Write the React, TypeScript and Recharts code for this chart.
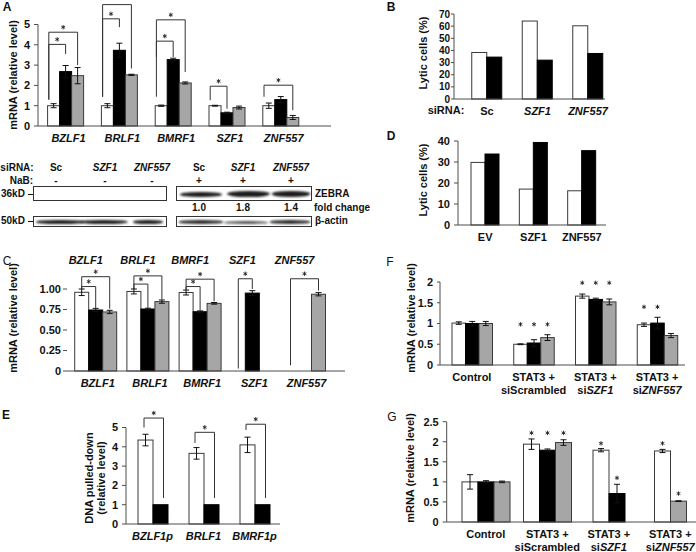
import React from 'react'
import { BarChart, Bar, XAxis, YAxis, ErrorBar } from 'recharts'

// ─── Style ───────────────────────────────────────────────────────────────────

const FONT = "'Liberation Sans', Arial, Helvetica, sans-serif"
const INK = '#111'
const AXIS = '#4d4d4d'
const FILLS: Record<string, string> = { w: '#ffffff', b: '#000000', g: '#a6a6a6' }
const GENES = new Set(['BZLF1', 'BRLF1', 'BMRF1', 'SZF1', 'ZNF557', 'BZLF1p', 'BMRF1p'])

type Bracket = { cat: string; from: number; to: number; top: number; l: number; r: number; star?: boolean }
type Series = { kind: 'w' | 'b' | 'g'; values: (number | null)[]; errs?: (number | null)[]; stars?: (number | null)[] }

// ─── Data: A (mRNA after knockdown) ─────────────────────────────────────────

const aGenes = ['BZLF1', 'BRLF1', 'BMRF1', 'SZF1', 'ZNF557']
const aWhite = [1.0, 1.0, 1.0, 1.0, 1.0]
const aWhiteErr = [0.1, 0.1, 0.03, 0.02, 0.13]
const aBlack = [2.68, 3.73, 3.27, 0.65, 1.3]
const aBlackErr = [0.3, 0.35, 0.07, 0.03, 0.15]
const aGrey = [2.48, 2.52, 2.12, 0.91, 0.42]
const aGreyErr = [0.4, 0.03, 0.05, 0.07, 0.1]
const aBrackets: Bracket[] = [
  { cat: 'BZLF1', from: 0, to: 1, top: 4.02, l: 1.3, r: 3.55 },
  { cat: 'BZLF1', from: 0, to: 2, top: 4.62, l: 1.3, r: 3.0 },
  { cat: 'BRLF1', from: 0, to: 1, top: 5.28, l: 1.44, r: 4.87 },
  { cat: 'BRLF1', from: 0, to: 2, top: 5.98, l: 1.44, r: 2.83, star: false },
  { cat: 'BMRF1', from: 0, to: 1, top: 4.18, l: 3.4, r: 3.4 },
  { cat: 'BMRF1', from: 0, to: 2, top: 5.23, l: 1.44, r: 2.66 },
  { cat: 'SZF1', from: 0, to: 1, top: 1.96, l: 1.27, r: 0.85 },
  { cat: 'ZNF557', from: 0, to: 2, top: 2.01, l: 1.44, r: 0.78 },
]

// ─── Data: blot ──────────────────────────────────────────────────────────────

const blotLanes = ['Sc', 'SZF1', 'ZNF557', 'Sc', 'SZF1', 'ZNF557']
const nabSigns = ['-', '-', '-', '+', '+', '+']
const foldChange = ['1.0', '1.8', '1.4']

// ─── Data: B / D (lytic cells) ───────────────────────────────────────────────

const bCats = ['Sc', 'SZF1', 'ZNF557']
const bWhite = [38.3, 64.2, 60.3]
const bBlack = [34.5, 32, 37.5]

const dCats = ['EV', 'SZF1', 'ZNF557']
const dWhite = [29.8, 17.1, 16.3]
const dBlack = [33.8, 39.3, 35.4]

// ─── Data: C ─────────────────────────────────────────────────────────────────

const cGenes = ['BZLF1', 'BRLF1', 'BMRF1', 'SZF1', 'ZNF557']
const cWhite = [0.96, 0.97, 0.957, null, null]
const cWhiteErr = [0.04, 0.03, 0.03, null, null]
const cBlack = [0.744, 0.756, 0.723, 0.95, null]
const cBlackErr = [0.02, 0.01, 0.01, 0.03, null]
const cGrey = [0.72, 0.846, 0.825, null, 0.936]
const cGreyErr = [0.02, 0.02, 0.01, null, 0.02]
const cBrackets: Bracket[] = [
  { cat: 'BZLF1', from: 0, to: 1, top: 1.03, l: 1.0, r: 0.77 },
  { cat: 'BZLF1', from: 0, to: 2, top: 1.15, l: 1.0, r: 0.76 },
  { cat: 'BRLF1', from: 0, to: 1, top: 1.06, l: 1.0, r: 0.77 },
  { cat: 'BRLF1', from: 0, to: 2, top: 1.16, l: 1.0, r: 0.87 },
  { cat: 'BMRF1', from: 0, to: 1, top: 1.03, l: 0.99, r: 0.74 },
  { cat: 'BMRF1', from: 0, to: 2, top: 1.12, l: 0.99, r: 0.85 },
  { cat: 'SZF1', from: 0, to: 1, top: 1.125, l: 0.03, r: 1.0 },
  { cat: 'ZNF557', from: 0, to: 2, top: 1.125, l: 0.07, r: 0.98 },
]

// ─── Data: E (ChIP) ──────────────────────────────────────────────────────────

const eCats = ['BZLF1p', 'BRLF1', 'BMRF1p']
const eWhite = [4.35, 3.66, 4.1]
const eWhiteErr = [0.3, 0.3, 0.4]
const eBlack = [1, 1, 1]
const eBrackets: Bracket[] = [
  { cat: 'BZLF1p', from: 0, to: 1, top: 5.49, l: 5.0, r: 1.35 },
  { cat: 'BRLF1', from: 0, to: 1, top: 4.75, l: 4.2, r: 1.35 },
  { cat: 'BMRF1p', from: 0, to: 1, top: 5.17, l: 4.87, r: 1.35 },
]

// ─── Data: F / G (STAT3) ────────────────────────────────────────────────────

const stCats = ['Control', 'STAT3 + siScrambled', 'STAT3 + siSZF1', 'STAT3 + siZNF557']

const fWhite = [1.01, 0.5, 1.66, 0.97]
const fWhiteErr = [0.03, 0.01, 0.05, 0.04]
const fBlack = [1.0, 0.53, 1.58, 1.01]
const fBlackErr = [0.05, 0.08, 0.03, 0.14]
const fGrey = [1.0, 0.66, 1.52, 0.71]
const fGreyErr = [0.05, 0.07, 0.07, 0.05]
const fWhiteStar = [null, 0.98, 1.98, 1.4]
const fBlackStar = [null, 0.98, 1.98, 1.4]
const fGreyStar = [null, 0.98, 1.98, null]

const gWhite = [1.0, 1.94, 1.79, 1.77]
const gWhiteErr = [0.18, 0.13, 0.04, 0.04]
const gBlack = [1.0, 1.79, 0.71, null]
const gBlackErr = [0.03, 0.03, 0.23, null]
const gGrey = [1.0, 1.98, null, 0.52]
const gGreyErr = [0.02, 0.07, null, 0.01]
const gWhiteStar = [null, 2.22, 1.96, 1.96]
const gBlackStar = [null, 2.22, 1.1, null]
const gGreyStar = [null, 2.22, null, 0.71]

// ─── Helpers ─────────────────────────────────────────────────────────────────

// rows keyed v0..vn; with pack, groups missing a series go to u0..um instead
// (drawn on a second, hidden axis so that short groups stay centred)
function buildRows(cats: string[], series: Series[], pack = false) {
  return cats.map((cat, i) => {
    const row: any = { cat }
    const used = pack ? series.filter((s) => s.values[i] != null) : series
    const p = pack && used.length < series.length ? 'u' : 'v'
    used.forEach((s, slot) => {
      row[`${p}${slot}`] = s.values[i]
      row[`${p}e${slot}`] = s.errs?.[i] ?? null
      row[`${p}s${slot}`] = s.stars?.[i] ?? null
      row[`${p}k${slot}`] = s.kind
    })
    return row
  })
}

function words(line: string, italic: boolean) {
  if (!italic) return line
  return line.split(' ').map((w, i) => {
    const sp = i > 0 ? ' ' : ''
    if (GENES.has(w)) return <tspan key={i} fontStyle="italic">{sp + w}</tspan>
    if (w.startsWith('si') && GENES.has(w.slice(2)))
      return (
        <tspan key={i}>
          {sp}si<tspan fontStyle="italic">{w.slice(2)}</tspan>
        </tspan>
      )
    return <tspan key={i}>{sp + w}</tspan>
  })
}

function CatTick(props: any) {
  const { x, y, payload, italic = true, dx = 0, dy = 0, size = 11 } = props
  const label: string = payload.value
  const cut = label.indexOf('+')
  const lines = cut >= 0 ? [label.slice(0, cut + 1), label.slice(cut + 1).trim()] : [label]
  return (
    <text x={x + dx} y={y + dy} textAnchor="middle" fontFamily={FONT} fontSize={size} fontWeight="bold" fill={INK}>
      {lines.map((ln, li) => (
        <tspan key={li} x={x + dx} dy={li === 0 ? '0.71em' : '1.18em'}>
          {words(ln, italic)}
        </tspan>
      ))}
    </text>
  )
}

function Star({ cx, cy }: { cx: number; cy: number }) {
  const r = 2.2
  const dx = r * 0.866
  const dy = r * 0.5
  return (
    <path
      d={`M${cx},${cy - r}L${cx},${cy + r}M${cx - dx},${cy - dy}L${cx + dx},${cy + dy}M${cx - dx},${cy + dy}L${cx + dx},${cy - dy}`}
      stroke="#222"
      strokeWidth={0.9}
      fill="none"
    />
  )
}

type ShapeOpts = { slots: number; brackets?: Bracket[]; legL: number; legR: number }

// bar + its annotations; scale taken from the bar the library drew
function makeShape(slot: number, o: ShapeOpts, pre = 'v') {
  return (p: any) => {
    const { x, y, width: w, height: h, payload: row } = p
    const v = row[`${pre}${slot}`]
    if (v == null || !(h > 0)) return <g />
    const unit = h / v
    const base = y + h
    const toY = (val: number) => base - val * unit
    const g0 = x - slot * w
    const kind = row[`${pre}k${slot}`]
    let host = 0
    while (host < o.slots && row[`${pre}${host}`] == null) host++
    const marks: React.ReactNode[] = []
    if (slot === host && o.brackets) {
      o.brackets
        .filter((b) => b.cat === row.cat)
        .forEach((b, i) => {
          const lx = g0 + (b.from + o.legL) * w
          const rx = g0 + (b.to + o.legR) * w
          const ty = toY(b.top)
          marks.push(
            <path
              key={`b${i}`}
              d={`M${lx},${toY(b.l)}L${lx},${ty}L${rx},${ty}L${rx},${toY(b.r)}`}
              fill="none"
              stroke="#333"
              strokeWidth={1}
            />
          )
          if (b.star !== false) marks.push(<Star key={`s${i}`} cx={(lx + rx) / 2} cy={ty - 5} />)
        })
    }
    const star = row[`${pre}s${slot}`]
    if (star != null) marks.push(<Star key="st" cx={x + w / 2} cy={toY(star)} />)
    return (
      <g>
        <rect x={x} y={y} width={w} height={h} fill={FILLS[kind]} stroke={kind === 'b' ? '#000' : '#3a3a3a'} strokeWidth={1} />
        {marks}
      </g>
    )
  }
}

type PanelProps = {
  box: [number, number, number, number]
  margin: { top: number; right: number; bottom: number; left: number }
  rows: any[]
  slots: number
  altSlots?: number
  barSize: number
  yDomain: [number, number]
  yTicks: number[]
  yWidth: number
  yFmt?: (v: number) => string
  ySize?: number
  yLine?: boolean
  yTickSize?: number
  yTickMargin?: number
  xHeight: number
  xPad: { left: number; right: number }
  italic?: boolean
  xDx?: number
  top?: { height: number; dx: number; dy: number }
  brackets?: Bracket[]
  legL?: number
  legR?: number
}

function barsFor(p: PanelProps, pre: string, n: number, axisId: string) {
  const opts: ShapeOpts = { slots: n, brackets: p.brackets, legL: p.legL ?? 0.5, legR: p.legR ?? 0.5 }
  return Array.from({ length: n }, (_, i) => (
    <Bar
      key={`${pre}${i}`}
      xAxisId={axisId}
      dataKey={`${pre}${i}`}
      barSize={p.barSize}
      isAnimationActive={false}
      shape={makeShape(i, opts, pre)}
    >
      {p.rows.some((r) => r[`${pre}e${i}`] != null) && (
        <ErrorBar dataKey={`${pre}e${i}`} width={3} stroke={INK} strokeWidth={1} />
      )}
    </Bar>
  ))
}

function Panel(p: PanelProps) {
  const [left, top, width, height] = p.box
  return (
    <div style={{ position: 'absolute', left, top }}>
      <BarChart width={width} height={height} data={p.rows} margin={p.margin} barGap={0} barCategoryGap={0}>
        <XAxis
          xAxisId="b"
          dataKey="cat"
          interval={0}
          height={p.xHeight}
          padding={p.xPad}
          tickLine={false}
          axisLine={{ stroke: AXIS }}
          tick={(t: any) => <CatTick {...t} italic={p.italic ?? true} dx={p.xDx ?? 0} />}
        />
        {p.altSlots && <XAxis xAxisId="b2" dataKey="cat" hide height={p.xHeight} padding={p.xPad} />}
        {p.top && (
          <XAxis
            xAxisId="t"
            orientation="top"
            dataKey="cat"
            interval={0}
            height={p.top.height}
            padding={p.xPad}
            tickLine={false}
            axisLine={false}
            tick={(t: any) => <CatTick {...t} italic dx={p.top!.dx} dy={p.top!.dy} />}
          />
        )}
        <YAxis
          type="number"
          domain={p.yDomain}
          ticks={p.yTicks}
          interval={0}
          width={p.yWidth}
          tickFormatter={p.yFmt ?? ((v: number) => String(v))}
          tick={{ fontSize: p.ySize ?? 11, fontWeight: 'bold', fill: INK, fontFamily: FONT }}
          tickSize={p.yTickSize ?? 4}
          tickMargin={p.yTickMargin ?? 4}
          tickLine={{ stroke: AXIS }}
          axisLine={p.yLine === false ? false : { stroke: AXIS }}
        />
        {barsFor(p, 'v', p.slots, 'b')}
        {p.altSlots ? barsFor(p, 'u', p.altSlots, 'b2') : null}
      </BarChart>
    </div>
  )
}

function Txt({
  x,
  y,
  children,
  size = 11,
  bold = true,
  italic = false,
  align = 'center',
}: {
  x: number
  y: number
  children: React.ReactNode
  size?: number
  bold?: boolean
  italic?: boolean
  align?: 'center' | 'left' | 'right'
}) {
  const tx = align === 'center' ? '-50%' : align === 'left' ? '0' : '-100%'
  return (
    <div
      style={{
        position: 'absolute',
        left: x,
        top: y,
        transform: `translate(${tx}, -50%)`,
        whiteSpace: 'nowrap',
        fontSize: size,
        fontWeight: bold ? 'bold' : 'normal',
        fontStyle: italic ? 'italic' : 'normal',
        lineHeight: 1.15,
        color: INK,
      }}
    >
      {children}
    </div>
  )
}

function RotLabel({ x, y, lines, size = 11 }: { x: number; y: number; lines: string[]; size?: number }) {
  return (
    <div
      style={{
        position: 'absolute',
        left: x,
        top: y,
        transform: 'translate(-50%, -50%) rotate(-90deg)',
        whiteSpace: 'nowrap',
        fontSize: size,
        fontWeight: 'bold',
        lineHeight: 1.1,
        textAlign: 'center',
        color: INK,
      }}
    >
      {lines.map((l) => (
        <div key={l}>{l}</div>
      ))}
    </div>
  )
}

function Band({ cx, cy, w, h, dark = 0.92 }: { cx: number; cy: number; w: number; h: number; dark?: number }) {
  return (
    <div
      style={{
        position: 'absolute',
        left: cx - w / 2,
        top: cy - h / 2,
        width: w,
        height: h,
        background: `rgba(10,10,10,${dark})`,
        borderRadius: '45%',
        filter: 'blur(0.9px)',
      }}
    />
  )
}

function BoxOutline({ x1, y1, x2, y2 }: { x1: number; y1: number; x2: number; y2: number }) {
  return (
    <div
      style={{
        position: 'absolute',
        left: x1,
        top: y1,
        width: x2 - x1,
        height: y2 - y1,
        border: '1px solid #333',
        boxSizing: 'border-box',
      }}
    />
  )
}

function Blot() {
  const laneX = [56, 105, 152, 199, 243, 291]
  return (
    <>
      <Txt x={17} y={168} size={10}>siRNA:</Txt>
      {blotLanes.map((l, i) => (
        <Txt key={`l${i}`} x={laneX[i]} y={168} size={10} italic={GENES.has(l)}>
          {l}
        </Txt>
      ))}
      <Txt x={33} y={181} size={10} align="right">NaB:</Txt>
      {nabSigns.map((s, i) => (
        <Txt key={`n${i}`} x={laneX[i]} y={181} size={10}>
          {s}
        </Txt>
      ))}
      <Txt x={1} y={194} size={10} align="left">36kD</Txt>
      <div style={{ position: 'absolute', left: 28, top: 194, width: 5, height: 1, background: INK }} />
      <BoxOutline x1={33} y1={186} x2={167} y2={201} />
      <BoxOutline x1={176} y1={186} x2={312} y2={201} />
      <Band cx={201} cy={194} w={42} h={5} />
      <Band cx={248} cy={194} w={43} h={6.5} />
      <Band cx={291} cy={194} w={38} h={6} />
      <Txt x={315} y={194} size={10} align="left">ZEBRA</Txt>
      {foldChange.map((f, i) => (
        <Txt key={`f${i}`} x={laneX[i + 3]} y={208} size={10}>
          {f}
        </Txt>
      ))}
      <Txt x={314} y={208} size={10} align="left">fold change</Txt>
      <Txt x={1} y={220.5} size={10} align="left">50kD</Txt>
      <div style={{ position: 'absolute', left: 28, top: 221, width: 5, height: 1, background: INK }} />
      <BoxOutline x1={33} y1={216} x2={167} y2={227} />
      <BoxOutline x1={176} y1={216} x2={312} y2={227} />
      <Band cx={60} cy={222} w={48} h={4} />
      <Band cx={104} cy={222} w={48} h={4.5} />
      <Band cx={148} cy={222} w={30} h={4} />
      <Band cx={201} cy={222} w={44} h={3.5} dark={0.85} />
      <Band cx={246} cy={222} w={44} h={3} dark={0.7} />
      <Band cx={290} cy={222} w={40} h={3.5} dark={0.85} />
      <Txt x={315} y={221} size={10} align="left">β-actin</Txt>
    </>
  )
}

// ─── Tables ──────────────────────────────────────────────────────────────────

const aRows = buildRows(aGenes, [
  { kind: 'w', values: aWhite, errs: aWhiteErr },
  { kind: 'b', values: aBlack, errs: aBlackErr },
  { kind: 'g', values: aGrey, errs: aGreyErr },
])
const bRows = buildRows(bCats, [
  { kind: 'w', values: bWhite },
  { kind: 'b', values: bBlack },
])
const cRows = buildRows(cGenes, [
  { kind: 'w', values: cWhite, errs: cWhiteErr },
  { kind: 'b', values: cBlack, errs: cBlackErr },
  { kind: 'g', values: cGrey, errs: cGreyErr },
])
const dRows = buildRows(dCats, [
  { kind: 'w', values: dWhite },
  { kind: 'b', values: dBlack },
])
const eRows = buildRows(eCats, [
  { kind: 'w', values: eWhite, errs: eWhiteErr },
  { kind: 'b', values: eBlack },
])
const fRows = buildRows(stCats, [
  { kind: 'w', values: fWhite, errs: fWhiteErr, stars: fWhiteStar },
  { kind: 'b', values: fBlack, errs: fBlackErr, stars: fBlackStar },
  { kind: 'g', values: fGrey, errs: fGreyErr, stars: fGreyStar },
])
const gRows = buildRows(
  stCats,
  [
    { kind: 'w', values: gWhite, errs: gWhiteErr, stars: gWhiteStar },
    { kind: 'b', values: gBlack, errs: gBlackErr, stars: gBlackStar },
    { kind: 'g', values: gGrey, errs: gGreyErr, stars: gGreyStar },
  ],
  true
)

// ─── App ─────────────────────────────────────────────────────────────────────

export default function App() {
  return (
    <div
      style={{
        position: 'absolute',
        left: 0,
        top: 0,
        width: 696,
        height: 552,
        overflow: 'hidden',
        background: '#fff',
        fontFamily: FONT,
      }}
    >
      {/* A */}
      <Panel
        box={[0, 0, 340, 150]}
        margin={{ top: 24.5, right: 9, bottom: 0, left: 0 }}
        rows={aRows}
        slots={3}
        barSize={12}
        yDomain={[0, 5]}
        yTicks={[0, 1, 2, 3, 4, 5]}
        yWidth={38}
        xHeight={24}
        xPad={{ left: 0.6, right: 23.4 }}
        xDx={3}
        brackets={aBrackets}
        legL={0.1}
        legR={0.5}
      />
      <Blot />
      {/* B */}
      <Panel
        box={[380, 0, 240, 121]}
        margin={{ top: 14, right: 15, bottom: 0, left: 0 }}
        rows={bRows}
        slots={2}
        barSize={15}
        yDomain={[0, 70]}
        yTicks={[0, 10, 20, 30, 40, 50, 60, 70]}
        yWidth={74}
        ySize={10}
        yTickSize={3}
        yTickMargin={1}
        xHeight={22}
        xPad={{ left: 7.75, right: -8.25 }}
      />
      <Txt x={446} y={110}>siRNA:</Txt>
      {/* C */}
      <Panel
        box={[0, 240, 350, 151]}
        margin={{ top: 19, right: 5, bottom: 0, left: 0 }}
        rows={cRows}
        slots={3}
        barSize={14}
        yDomain={[0, 1]}
        yTicks={[0, 0.25, 0.5, 0.75, 1]}
        yFmt={(v) => (v === 0 ? '0' : v.toFixed(2))}
        yWidth={67}
        yLine={false}
        yTickMargin={2}
        xHeight={20}
        xPad={{ left: 2.7, right: 14.3 }}
        xDx={2}
        top={{ height: 30, dx: -10, dy: -25 }}
        brackets={cBrackets}
      />
      {/* D */}
      <Panel
        box={[380, 125, 228, 120]}
        margin={{ top: 16, right: 2, bottom: 0, left: 0 }}
        rows={dRows}
        slots={2}
        barSize={14}
        yDomain={[0, 40]}
        yTicks={[0, 10, 20, 30, 40]}
        yWidth={78}
        yTickSize={4}
        yTickMargin={4}
        xHeight={20}
        xPad={{ left: 3, right: 0 }}
        italic={false}
      />
      {/* E */}
      <Panel
        box={[100, 405, 185, 141]}
        margin={{ top: 22.5, right: 5, bottom: 0, left: 0 }}
        rows={eRows}
        slots={2}
        barSize={15}
        yDomain={[0, 5]}
        yTicks={[0, 1, 2, 3, 4, 5]}
        yWidth={26}
        xHeight={22}
        xPad={{ left: 1, right: 0 }}
        brackets={eBrackets}
        legL={0.4}
        legR={0.7}
      />
      {/* F */}
      <Panel
        box={[415, 262, 275, 133]}
        margin={{ top: 20, right: 5, bottom: 0, left: 0 }}
        rows={fRows}
        slots={3}
        barSize={13.5}
        yDomain={[0, 2]}
        yTicks={[0, 0.5, 1, 1.5, 2]}
        yWidth={25}
        yTickSize={3}
        yTickMargin={4}
        xHeight={30}
        xPad={{ left: 1, right: -3 }}
      />
      {/* G */}
      <Panel
        box={[415, 400, 300, 152]}
        margin={{ top: 21.7, right: 0, bottom: 0, left: 0 }}
        rows={gRows}
        slots={3}
        altSlots={2}
        barSize={16}
        yDomain={[0, 2.5]}
        yTicks={[0, 0.5, 1, 1.5, 2, 2.5]}
        yWidth={31.7}
        xHeight={30}
        xPad={{ left: 8.3, right: 14 }}
      />

      {/* axis titles */}
      <RotLabel x={13} y={75} lines={['mRNA (relative level)']} />
      <RotLabel x={423} y={53} lines={['Lytic cells (%)']} />
      <RotLabel x={13} y={318} lines={['mRNA (relative level)']} />
      <RotLabel x={423} y={180} lines={['Lytic cells (%)']} />
      <RotLabel x={95} y={478} lines={['DNA pulled-down', '(relative level)']} />
      <RotLabel x={411} y={318} lines={['mRNA (relative level)']} />
      <RotLabel x={410} y={468} lines={['mRNA (relative level)']} />

      {/* panel letters */}
      <Txt x={7} y={8} size={12}>A</Txt>
      <Txt x={391} y={8} size={12}>B</Txt>
      <Txt x={7} y={262} size={12} bold={false}>C</Txt>
      <Txt x={391} y={137} size={12}>D</Txt>
      <Txt x={6} y={416} size={12}>E</Txt>
      <Txt x={390} y={263} size={12} bold={false}>F</Txt>
      <Txt x={392} y={418} size={12} bold={false}>G</Txt>
    </div>
  )
}
